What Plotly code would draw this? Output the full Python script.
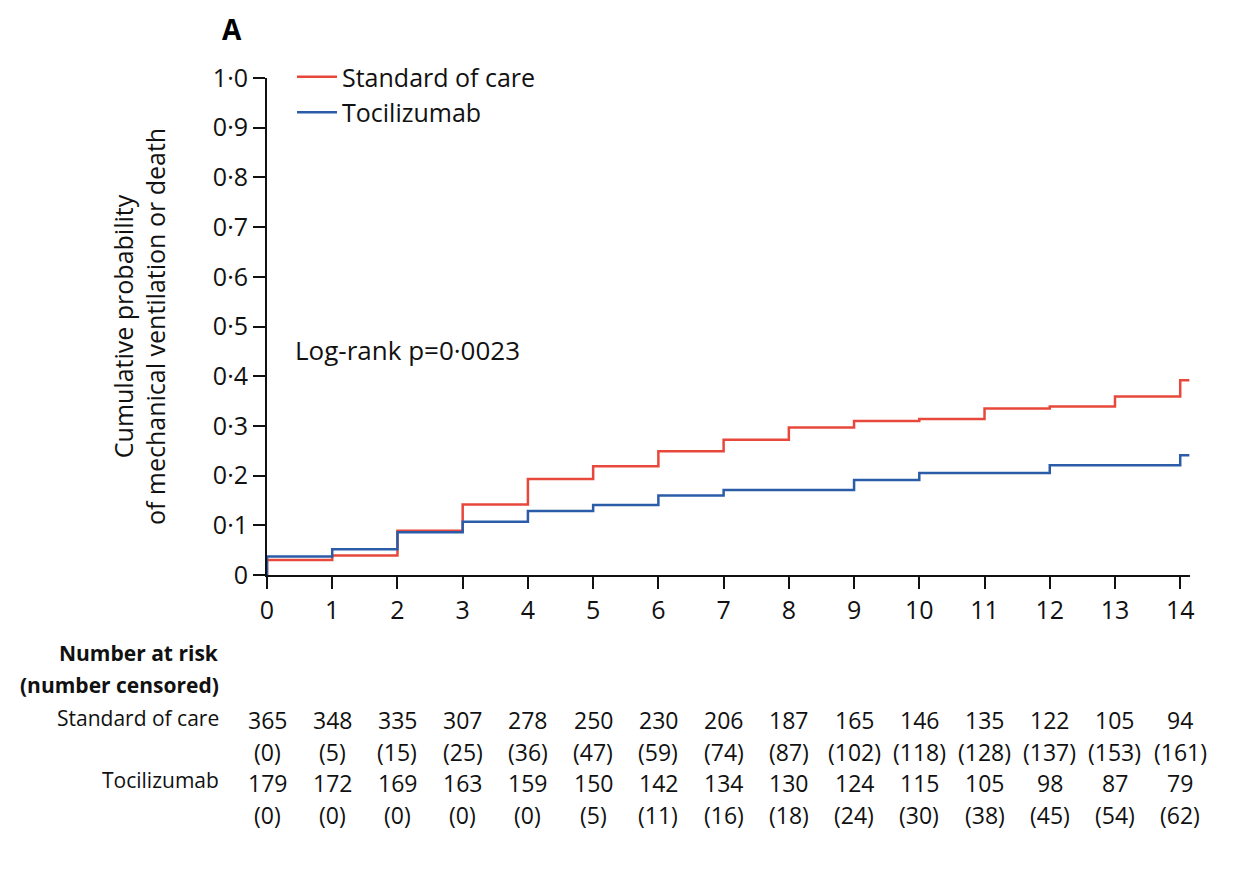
import plotly.graph_objects as go

# Step data (cumulative probability)
soc_t = [0, 0, 1, 2, 3, 4, 5, 6, 7, 8, 9, 10, 11, 12, 13, 14, 14.14]
soc_y = [0, 0.030, 0.039, 0.089, 0.142, 0.193, 0.219, 0.249, 0.272, 0.297, 0.310, 0.314, 0.335, 0.339, 0.359, 0.392, 0.392]
toc_t = [0, 0, 1, 2, 3, 4, 5, 6, 7, 9, 10, 12, 14, 14.14]
toc_y = [0, 0.037, 0.052, 0.086, 0.107, 0.129, 0.141, 0.160, 0.171, 0.191, 0.205, 0.221, 0.241, 0.241]

days = list(range(15))
soc_risk = [365, 348, 335, 307, 278, 250, 230, 206, 187, 165, 146, 135, 122, 105, 94]
soc_cens = [0, 5, 15, 25, 36, 47, 59, 74, 87, 102, 118, 128, 137, 153, 161]
toc_risk = [179, 172, 169, 163, 159, 150, 142, 134, 130, 124, 115, 105, 98, 87, 79]
toc_cens = [0, 0, 0, 0, 0, 5, 11, 16, 18, 24, 30, 38, 45, 54, 62]

yticks = [0, 0.1, 0.2, 0.3, 0.4, 0.5, 0.6, 0.7, 0.8, 0.9, 1.0]
ytick_text = ["0", "0·1", "0·2", "0·3", "0·4", "0·5", "0·6", "0·7", "0·8", "0·9", "1·0"]

RED = "#e8483b"
BLUE = "#2b5ca8"
FONT = "Open Sans"
TXT = "#111111"

OFF = 8  # page body margin
W, H = 1240, 870
# plot area in screen pixels
X0, X1, Y0, Y1 = 267, 1190, 78, 575
L = X0 - OFF
T = Y0 - OFF
R = W - (X1 - OFF)
B = H - (Y1 - OFF)
PW = X1 - X0
PH = Y1 - Y0
XMAX = 14.15


def px_x(px):
    return (px - X0) / PW


def px_y(py):
    return (Y1 - py) / PH


fig = go.Figure()
fig.add_trace(go.Scatter(x=soc_t, y=soc_y, mode="lines", line=dict(shape="hv", color=RED, width=2.5),
                         name="Standard of care"))
fig.add_trace(go.Scatter(x=toc_t, y=toc_y, mode="lines", line=dict(shape="hv", color=BLUE, width=2.5),
                         name="Tocilizumab"))

ann = []
ann.append(dict(x=px_x(293), y=px_y(350), xref="paper", yref="paper", text="Log-rank p=0·0023",
                showarrow=False, xanchor="left", yanchor="middle", font=dict(size=26, color=TXT)))

row_y = [720, 752, 783, 815]
rows = [soc_risk, [f"({c})" for c in soc_cens], toc_risk, [f"({c})" for c in toc_cens]]
for yy, vals in zip(row_y, rows):
    for d, v in zip(days, vals):
        ann.append(dict(x=d / XMAX, y=px_y(yy), xref="paper", yref="paper", text=str(v), showarrow=False,
                        xanchor="center", yanchor="middle", font=dict(size=23, color=TXT)))

lx = px_x(221)
ann.append(dict(x=lx, y=px_y(653), xref="paper", yref="paper", text="<b>Number at risk</b>", showarrow=False,
                xanchor="right", yanchor="middle", font=dict(size=21, color=TXT)))
ann.append(dict(x=lx, y=px_y(685), xref="paper", yref="paper", text="<b>(number censored)</b>", showarrow=False,
                xanchor="right", yanchor="middle", font=dict(size=21, color=TXT)))
ann.append(dict(x=lx, y=px_y(718), xref="paper", yref="paper", text="Standard of care", showarrow=False,
                xanchor="right", yanchor="middle", font=dict(size=21, color=TXT)))
ann.append(dict(x=lx, y=px_y(780), xref="paper", yref="paper", text="Tocilizumab", showarrow=False,
                xanchor="right", yanchor="middle", font=dict(size=21, color=TXT)))
ann.append(dict(x=px_x(232), y=px_y(29), xref="paper", yref="paper", text="<b>A</b>", showarrow=False,
                xanchor="center", yanchor="middle", font=dict(size=28, color="#000")))

fig.update_layout(
    width=W, height=H,
    margin=dict(l=L, r=R, t=T, b=B, autoexpand=False),
    plot_bgcolor="white", paper_bgcolor="white",
    font=dict(family=FONT, size=25, color=TXT),
    showlegend=True,
    legend=dict(x=px_x(292), y=px_y(54), xanchor="left", yanchor="top", bgcolor="rgba(0,0,0,0)",
                font=dict(size=25), tracegroupgap=0, itemwidth=40),
    annotations=ann,
    xaxis=dict(range=[0, XMAX], tickvals=days, ticktext=[str(d) for d in days],
               showgrid=False, zeroline=False, showline=True, linecolor=TXT, linewidth=2,
               ticks="outside", ticklen=12, tickwidth=2, tickcolor=TXT,
               tickfont=dict(size=25), fixedrange=True, automargin=False),
    yaxis=dict(range=[0, 1.0], tickvals=yticks, ticktext=ytick_text,
               showgrid=False, zeroline=False, showline=True, linecolor=TXT, linewidth=2,
               ticks="outside", ticklen=12, tickwidth=2, tickcolor=TXT,
               tickfont=dict(size=25), automargin=False,
               title=dict(text="Cumulative probability<br>of mechanical ventilation or death",
                          font=dict(size=25), standoff=40),
               fixedrange=True),
)

fig.write_html("out.html")
